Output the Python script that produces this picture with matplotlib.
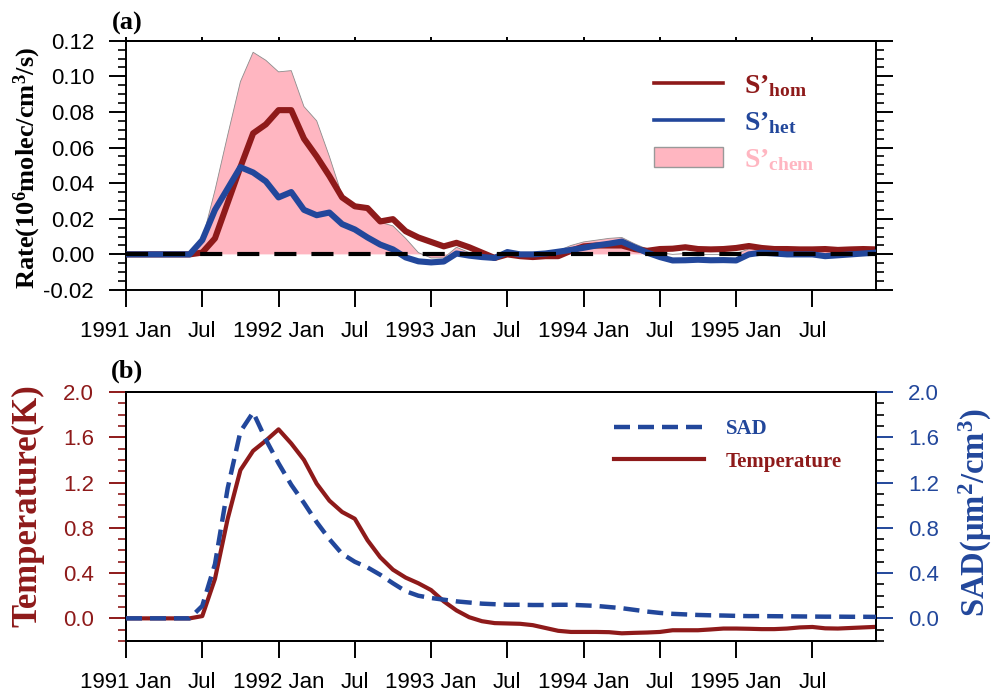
import numpy as np
import matplotlib
matplotlib.use("Agg")
import matplotlib.pyplot as plt
from matplotlib.lines import Line2D
from matplotlib.patches import Patch
from matplotlib.ticker import MultipleLocator

plt.rcParams['font.family'] = ['Liberation Sans', 'DejaVu Sans']
plt.rcParams['mathtext.fontset'] = 'custom'
plt.rcParams['mathtext.rm'] = 'Liberation Serif:bold'
plt.rcParams['mathtext.it'] = 'Liberation Serif:bold:italic'
plt.rcParams['mathtext.bf'] = 'Liberation Serif:bold'

# ---------------- data (monthly, Jan 1991 .. Dec 1995) ----------------
months = np.arange(60)
tick_positions = [0, 6, 12, 18, 24, 30, 36, 42, 48, 54]
tick_labels = ["1991 Jan", "Jul", "1992 Jan", "Jul", "1993 Jan", "Jul",
               "1994 Jan", "Jul", "1995 Jan", "Jul"]

s_hom = [0, 0, 0, 0, 0, 0, 0.001, 0.009, 0.029, 0.049,
         0.068, 0.073, 0.081, 0.081, 0.065, 0.055, 0.044, 0.032, 0.027, 0.026,
         0.0185, 0.0198, 0.013, 0.0095, 0.007, 0.0045, 0.0065, 0.004, 0.001, -0.002,
         0.0, -0.001, -0.0015, -0.001, -0.001, 0.002, 0.0045, 0.005, 0.005, 0.005,
         0.003, 0.002, 0.003, 0.0032, 0.004, 0.003, 0.0028, 0.003, 0.0036, 0.0047,
         0.0036, 0.003, 0.003, 0.0028, 0.0028, 0.003, 0.0025, 0.0028, 0.003, 0.0028]

s_het = [0, 0, 0, 0, 0, 0, 0.008, 0.025, 0.037, 0.049,
         0.046, 0.041, 0.032, 0.035, 0.025, 0.022, 0.0235, 0.017, 0.014, 0.0095,
         0.0055, 0.0028, -0.0017, -0.0039, -0.0045, -0.004, 0.0005, -0.0007, -0.0015, -0.002,
         0.0013, 0.0, 0.0, 0.0005, 0.0015, 0.0025, 0.0037, 0.005, 0.006, 0.0072,
         0.004, 0.001, -0.0015, -0.0034, -0.0033, -0.003, -0.0033, -0.0032, -0.0034, 0.0,
         0.001, 0.0005, 0.0, 0.0, 0.0, -0.001, -0.0005, 0.0, 0.0005, 0.001]

s_chem = [0, 0, 0, 0, 0, 0, 0.008, 0.036, 0.067, 0.097,
          0.1135, 0.109, 0.1025, 0.1032, 0.083, 0.075, 0.055, 0.033, 0.027, 0.026,
          0.018, 0.016, 0.009, 0.001, -0.002, -0.002, 0.004, 0.001, -0.001, -0.003,
          0.001, -0.001, -0.001, 0.0, 0.002, 0.005, 0.007, 0.008, 0.009, 0.0095,
          0.006, 0.003, 0.001, 0.0, 0.0005, 0.0, 0.0, 0.0, 0.0005, 0.003,
          0.004, 0.003, 0.003, 0.002, 0.002, 0.002, 0.002, 0.002, 0.003, 0.003]

temperature = [0, 0, 0, 0, 0, 0, 0.02, 0.35, 0.88, 1.31,
               1.48, 1.57, 1.67, 1.545, 1.40, 1.19, 1.04, 0.94, 0.88, 0.69,
               0.54, 0.43, 0.36, 0.31, 0.25, 0.15, 0.07, 0.01, -0.025, -0.042,
               -0.045, -0.048, -0.06, -0.085, -0.11, -0.12, -0.12, -0.12, -0.122, -0.132,
               -0.128, -0.125, -0.12, -0.105, -0.105, -0.105, -0.098, -0.09, -0.09, -0.092,
               -0.095, -0.095, -0.09, -0.08, -0.076, -0.088, -0.09, -0.085, -0.08, -0.075]

sad = [0, 0, 0, 0, 0, 0, 0.11, 0.48, 1.15, 1.65,
       1.82, 1.58, 1.37, 1.18, 1.02, 0.85, 0.70, 0.57, 0.50, 0.45,
       0.385, 0.31, 0.24, 0.20, 0.18, 0.165, 0.15, 0.14, 0.13, 0.125,
       0.12, 0.12, 0.118, 0.118, 0.12, 0.12, 0.115, 0.11, 0.10, 0.09,
       0.075, 0.06, 0.048, 0.04, 0.035, 0.03, 0.027, 0.025, 0.022, 0.02,
       0.02, 0.019, 0.018, 0.017, 0.016, 0.015, 0.015, 0.014, 0.014, 0.013]

# ---------------- style ----------------
RED = '#8E1A1A'
BLUE = '#22479B'
PINK = '#FFB6C1'
W, H = 993, 692

fig = plt.figure(figsize=(W / 100, H / 100), dpi=100)
axa = fig.add_axes([126 / W, 1 - 290 / H, 750 / W, (290 - 40.7) / H])
axb = fig.add_axes([126 / W, 1 - 641 / H, 750 / W, (641 - 392) / H])

def style_x(ax):
    ax.set_xlim(0, 59)
    ax.set_xticks(tick_positions)
    ax.set_xticklabels(tick_labels)
    ax.tick_params(axis='x', which='major', direction='out', length=12, width=1.4,
                   labelsize=16, pad=10, top=False)
    for s in ax.spines.values():
        s.set_linewidth(1.4)

# ---------------- panel (a) ----------------
axa.fill_between(months, 0, s_chem, facecolor=PINK, lw=0, zorder=1)
axa.plot(months, s_chem, color='#8c8c8c', lw=0.6, zorder=1.5)
axa.plot(months, s_hom, color=RED, lw=4.4, zorder=2)
axa.plot(months, s_het, color=BLUE, lw=4.4, zorder=3)
axa.axhline(0, color='black', lw=3, ls=(0, (5.3, 3.6)), zorder=4)

axa.set_ylim(-0.02, 0.12)
axa.yaxis.set_major_locator(MultipleLocator(0.02))
axa.yaxis.set_minor_locator(MultipleLocator(0.005))
axa.yaxis.set_major_formatter(matplotlib.ticker.FormatStrFormatter('%.2f'))
axa.tick_params(axis='y', which='major', direction='out', length=12, width=1.4,
                left=True, right=True, labelsize=16, pad=11)
axa.tick_params(axis='y', which='minor', direction='out', length=6, width=1.2,
                left=True, right=True)
style_x(axa)
sec = axa.secondary_xaxis('top')
sec.set_xticks(tick_positions)
sec.tick_params(axis='x', direction='out', length=3, width=1.4, labeltop=False)
sec.spines['top'].set_linewidth(1.4)

axa.set_ylabel('Rate(10$^6$molec/cm$^3$/s)', fontsize=19, fontweight='bold',
               family='Liberation Serif')
axa.yaxis.set_label_coords(-0.132, 0.49)
axa.yaxis.label.set_va('center')

handles_a = [Line2D([], [], color=RED, lw=2.6),
             Line2D([], [], color=BLUE, lw=2.6),
             Patch(facecolor=PINK, edgecolor='#999999', lw=1)]
labels_a = ['S\u2019$_{\\mathrm{hom}}$', 'S\u2019$_{\\mathrm{het}}$', 'S\u2019$_{\\mathrm{chem}}$']
leg = axa.legend(handles_a, labels_a, loc='upper left',
                 bbox_to_anchor=(654 / W, 1 - 73 / H), bbox_transform=fig.transFigure,
                 frameon=False, borderpad=0, borderaxespad=0, handlelength=2.5,
                 handleheight=0.7, handletextpad=0.75, labelspacing=0.4,
                 prop={'family': 'Liberation Serif', 'weight': 'bold', 'size': 20})
for t, c in zip(leg.get_texts(), [RED, BLUE, PINK]):
    t.set_color(c)

# ---------------- panel (b) ----------------
axb.plot(months, temperature, color=RED, lw=3, zorder=2)
axr = axb.twinx()
axr.plot(months, sad, color=BLUE, lw=3.2, ls=(0, (3.6, 1.8)), zorder=3)

for ax in (axb, axr):
    ax.set_ylim(-0.2, 2.0)
    ax.yaxis.set_major_locator(MultipleLocator(0.4))
    ax.yaxis.set_minor_locator(MultipleLocator(0.1))
    ax.yaxis.set_major_formatter(matplotlib.ticker.FormatStrFormatter('%.1f'))

axb.tick_params(axis='y', which='major', direction='out', length=12, width=1.4,
                colors=RED, labelsize=16, pad=11, right=False)
axb.tick_params(axis='y', which='minor', direction='out', length=6, width=1.2,
                colors=RED, right=False)
axr.tick_params(axis='y', which='major', direction='out', length=12, width=1.4,
                colors=BLUE, labelsize=16, pad=11)
axr.tick_params(axis='y', which='minor', direction='out', length=6, width=1.2,
                color='black')
style_x(axb)
for s in axr.spines.values():
    s.set_linewidth(1.4)

axb.set_ylabel('Temperature(K)', fontsize=25, fontweight='bold',
               family='Liberation Serif', color=RED)
axb.yaxis.set_label_coords(-0.131, 0.545)
axb.yaxis.label.set_va('center')
axr.set_ylabel('SAD(\u03bcm$^2$/cm$^3$)', fontsize=23.5, fontweight='bold',
               family='Liberation Serif', color=BLUE)
axr.yaxis.set_label_coords(1.133, 0.515)
axr.yaxis.label.set_va('center')

handles_b = [Line2D([], [], color=BLUE, lw=3.2, ls=(0, (3.6, 1.8))),
             Line2D([], [], color=RED, lw=3)]
leg_b = axr.legend(handles_b, ['SAD', 'Temperature'], loc='upper left',
                   bbox_to_anchor=(614 / W, 1 - 419 / H), bbox_transform=fig.transFigure,
                   frameon=False, borderpad=0, borderaxespad=0, handlelength=4.3,
                   handletextpad=1.05, labelspacing=0.6,
                   prop={'family': 'Liberation Serif', 'weight': 'bold', 'size': 15})
for t, c in zip(leg_b.get_texts(), [BLUE, RED]):
    t.set_color(c)

# panel labels
fig.text(112 / W, 1 - 23 / H, '(a)', fontsize=19, fontweight='bold',
         family='Liberation Serif', va='center', ha='left')
fig.text(111 / W, 1 - 371 / H, '(b)', fontsize=19, fontweight='bold',
         family='Liberation Serif', va='center', ha='left')

fig.savefig('out.png', dpi=100)
